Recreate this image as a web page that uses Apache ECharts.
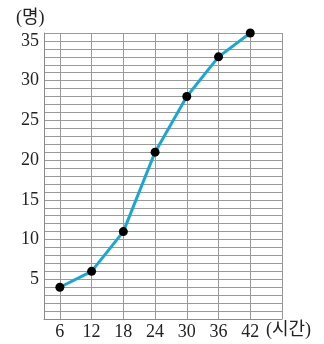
<!DOCTYPE html>
<html>
<head>
<meta charset="utf-8">
<script src="https://cdn.jsdelivr.net/npm/echarts@6/dist/echarts.min.js"></script>
<style>html,body{margin:0;padding:0;background:#fff}#c{width:324px;height:344px}</style>
</head>
<body>
<div id="c"></div>
<script>
const hours = [6, 12, 18, 24, 30, 36, 42];
const people = [4, 6, 11, 21, 28, 33, 36];
const xTicks = [6, 12, 18, 24, 30, 36, 42];
const xGridLines = [6, 12, 18, 24, 30, 36, 42, 48];
const yLabels = [5, 10, 15, 20, 25, 30, 35];
const xUnit = '(시간)';
const yUnit = '(명)';

const font = "'Liberation Serif', 'Noto Sans CJK KR', serif";
const chart = echarts.init(document.getElementById('c'), null, {renderer: 'canvas'});
chart.setOption({
  animation: false,
  grid: {left: 44, right: 42, top: 33, bottom: 25},
  xAxis: {
    type: 'value', min: 3, max: 48,
    axisLine: {show: true, lineStyle: {color: '#8a8a8a', width: 1}},
    axisTick: {show: false},
    splitLine: {show: false},
    axisLabel: {customValues: xTicks, color: '#222', fontSize: 18, fontFamily: font, margin: 4}
  },
  yAxis: {
    type: 'value', min: 0, max: 36, interval: 1,
    axisLine: {show: true, lineStyle: {color: '#8a8a8a', width: 1}},
    axisTick: {show: false},
    splitLine: {show: true, lineStyle: {color: '#9a9a9a', width: 1}},
    axisLabel: {
      color: '#222', fontSize: 18, fontFamily: font, margin: 5,
      formatter: v => (yLabels.indexOf(v) >= 0 ? String(v) : '')
    }
  },
  graphic: [
    {type: 'text', left: 16, top: 9, style: {text: yUnit, fontSize: 18, fontFamily: font, fill: '#222'}},
    {type: 'text', left: 266, top: 321, style: {text: xUnit, fontSize: 18, fontFamily: font, fill: '#222'}}
  ],
  series: [{
    type: 'line',
    data: hours.map((h, i) => [h, people[i]]),
    lineStyle: {color: '#1aa8d2', width: 3},
    itemStyle: {color: '#000'},
    symbol: 'circle', symbolSize: 9,
    z: 5,
    markLine: {
      silent: true, symbol: 'none', label: {show: false},
      lineStyle: {color: '#9a9a9a', width: 1, type: 'solid'},
      data: xGridLines.map(x => ({xAxis: x}))
    }
  }]
});
</script>
</body>
</html>
